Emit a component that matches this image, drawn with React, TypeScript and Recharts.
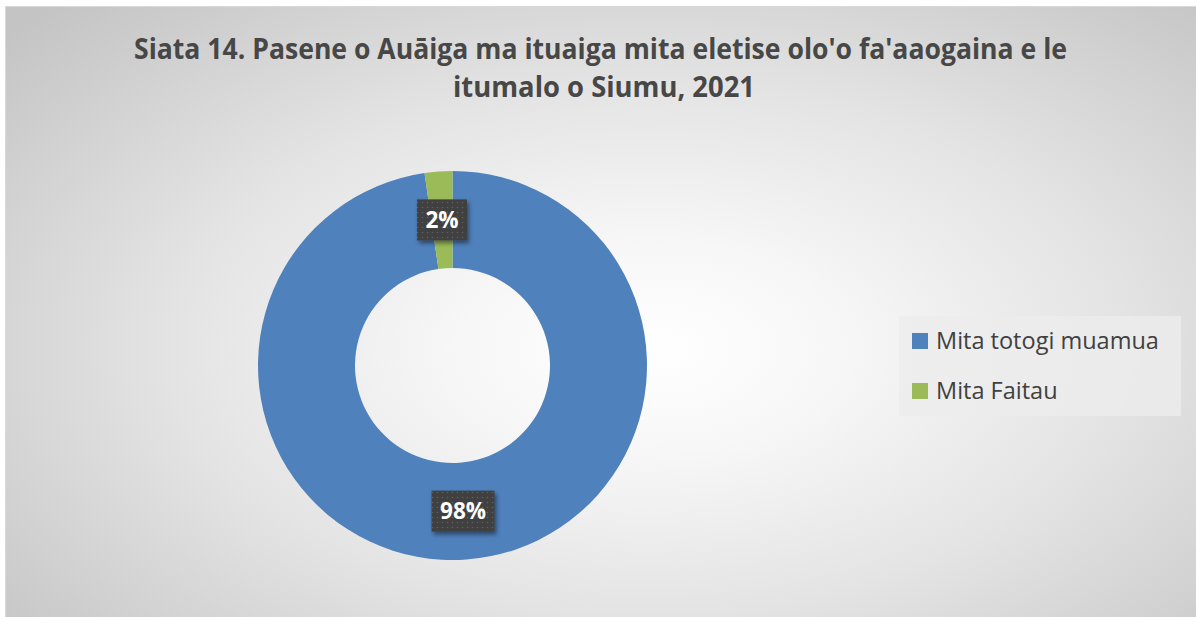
import { PieChart, Pie, Cell, Legend } from 'recharts'

const CATEGORIES = ['Mita totogi muamua', 'Mita Faitau']
const SHARES = [97.7, 2.3]
const COLORS = ['#4F81BD', '#9BBB59']
const TITLE_LINES = ["Siata 14. Pasene o Auāiga ma ituaiga mita eletise olo'o fa'aaogaina e le", 'itumalo o Siumu, 2021']

const W = 1196
const H = 617
const RAD = Math.PI / 180
const FONT = '"Open Sans", "Noto Sans", sans-serif'

const data = CATEGORIES.map((name, i) => ({ name, value: SHARES[i]! }))

function DataLabel(props: any) {
  const { cx, cy, midAngle, innerRadius, outerRadius, percent } = props
  const r = (innerRadius + outerRadius) / 2
  const x = cx + r * Math.cos(-midAngle * RAD)
  const y = cy + r * Math.sin(-midAngle * RAD)
  const txt = `${Math.round(percent * 100)}%`
  const w = 24 + 13 * txt.length
  const h = 41
  return (
    <g>
      <rect x={x - w / 2} y={y - h / 2} width={w} height={h} fill="url(#dots)" filter="url(#lblShadow)" />
      <text x={x} y={y} dy="0.36em" textAnchor="middle" fill="#fff" fontSize={22.5} fontWeight={700} fontFamily={FONT}>{txt}</text>
    </g>
  )
}

function LegendBox() {
  return (
    <div style={{ width: 282, height: 100, background: 'rgba(236,236,236,0.8)', boxSizing: 'border-box', paddingTop: 0, paddingLeft: 13, fontFamily: FONT }}>
      {data.map((d, i) => (
        <div key={d.name} style={{ display: 'flex', alignItems: 'center', height: 50 }}>
          <span style={{ width: 16, height: 16, background: COLORS[i], display: 'inline-block', marginRight: 8 }} />
          <span style={{ fontSize: 23.5, color: '#404040', lineHeight: 1 }}>{d.name}</span>
        </div>
      ))}
    </div>
  )
}

export default function App() {
  return (
    <div style={{ position: 'absolute', left: 0, top: 0, width: W, height: H, background: '#fff' }}>
      <div style={{
        position: 'absolute', left: 5, top: 6, width: W - 5, height: H - 6, boxSizing: 'border-box',
        borderTop: '1px solid #d9d9d9', borderLeft: '1px solid #d9d9d9',
        background: 'radial-gradient(ellipse 72% 78% at 54% 56%, #ffffff 0%, #f7f7f7 22%, #e4e4e4 55%, #c4c4c4 100%)',
      }} />
      <svg width={W} height={H} style={{ position: 'absolute', left: 0, top: 0 }}>
        <text x={600.5} y={58.5} textAnchor="middle" textLength={933} lengthAdjust="spacingAndGlyphs" fontSize={28} fontWeight={700} fill="#474747" fontFamily={FONT}>{TITLE_LINES[0]}</text>
        <text x={604} y={96.7} textAnchor="middle" textLength={302} lengthAdjust="spacingAndGlyphs" fontSize={28} fontWeight={700} fill="#474747" fontFamily={FONT}>{TITLE_LINES[1]}</text>
      </svg>
      <div style={{ position: 'absolute', left: 0, top: 0 }}>
        <PieChart width={W} height={H} margin={{ top: 0, right: 0, bottom: 0, left: 0 }}>
          <defs>
            <pattern id="dots" width={5} height={5} patternUnits="userSpaceOnUse">
              <rect width={5} height={5} fill="#3f3f3f" />
              <circle cx={2.5} cy={2.5} r={0.8} fill="#5e5e5e" />
            </pattern>
            <filter id="lblShadow" x="-20%" y="-20%" width="150%" height="160%">
              <feDropShadow dx={2} dy={3} stdDeviation={2} floodColor="#000" floodOpacity={0.45} />
            </filter>
          </defs>
          <Pie
            data={data}
            dataKey="value"
            nameKey="name"
            cx={452.5}
            cy={365.5}
            innerRadius={97.5}
            outerRadius={194.5}
            startAngle={90}
            endAngle={-270}
            stroke="none"
            label={DataLabel}
            labelLine={false}
            isAnimationActive={false}
          >
            {data.map((d, i) => <Cell key={d.name} fill={COLORS[i]} />)}
          </Pie>
          <Legend content={<LegendBox />} wrapperStyle={{ position: 'absolute', left: 899, top: 316, width: 282, height: 100 }} />
        </PieChart>
      </div>
    </div>
  )
}
